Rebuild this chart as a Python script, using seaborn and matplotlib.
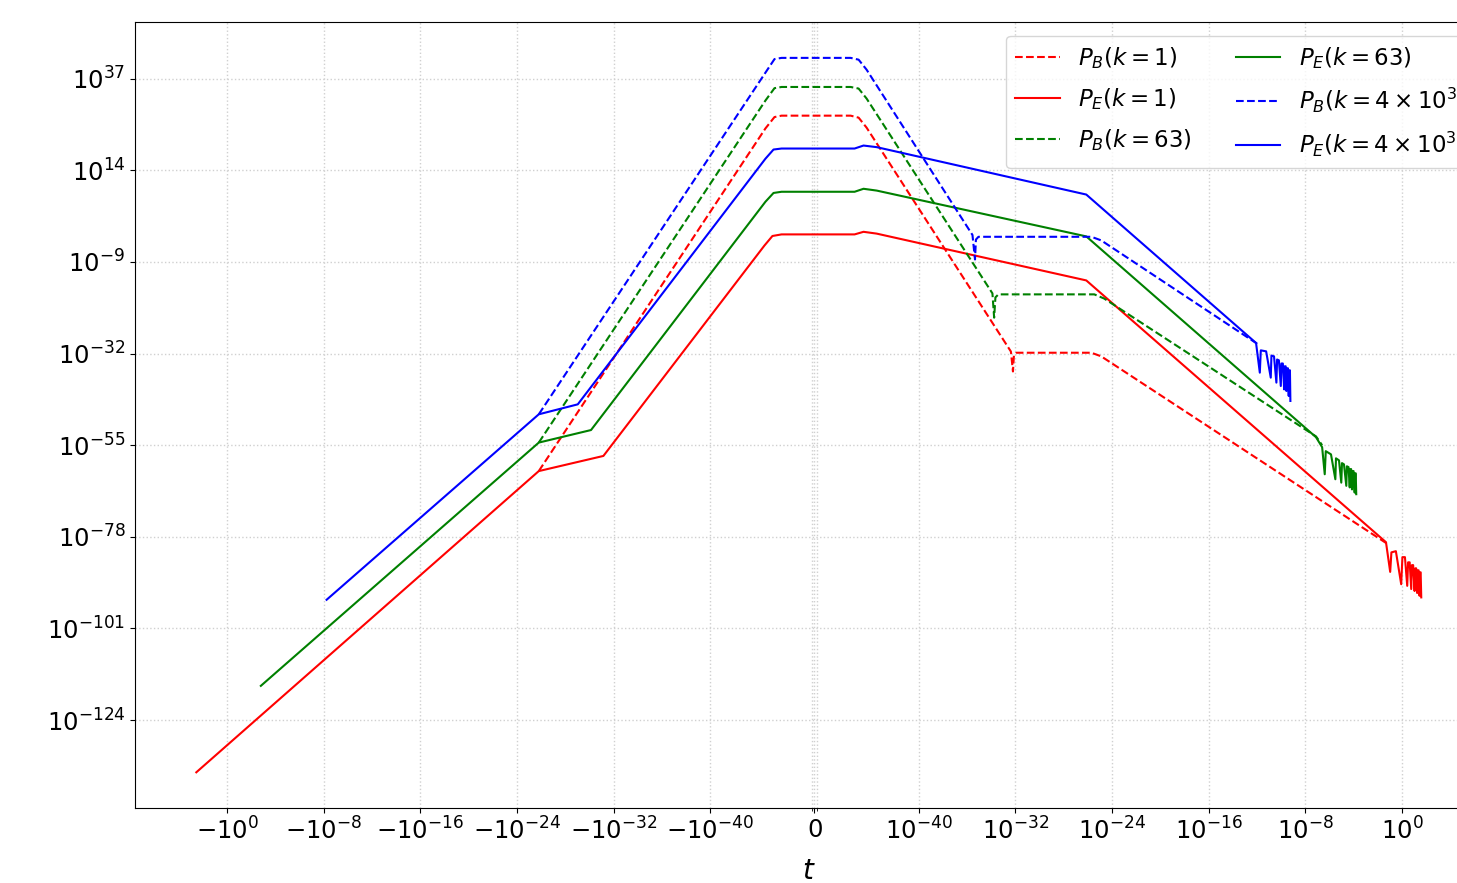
import numpy as np
import pandas as pd
import seaborn as sns
import matplotlib
matplotlib.use('Agg')
import matplotlib.pyplot as plt
from matplotlib.ticker import FixedLocator, NullLocator, NullFormatter

# values: t (signed) and log10 of the power spectrum

# P_B(k=1), red dashed
pb1_t = [-1.6e-26, -2.8e-45, -5.0e-46, -1.3e-46, 2.4e-46, 1.1e-45, 5.0e-45,
         4.4e-33, 6.5e-33, 7.8e-33, 1.26e-32, 2.0e-26, 1.3e-25, 6.9e-2]
pb1_logP = [-61.5, 24.5, 27.35, 27.7, 27.7, 27.2, 24.7,
            -31.5, -36.5, -32.5, -31.8, -31.8, -32.7, -79.85]

# P_E(k=1), red solid
pe1_t = [-3.5e2, -1.6e-26, -7.2e-32, -3.4e-45, -7.4e-46, -1.3e-46, 5.1e-46, 2.8e-45,
         3.4e-44, 7.6e-27, 4.8e-2,
         1.07e-1, 1.35e-1, 3.16e-1, 8.71e-1, 1.10, 1.78, 2.75, 3.24, 4.39, 5.89,
         6.76, 8.5, 11.2, 12.9, 15.1, 18.2, 20.4, 24.0, 28.8, 31.6, 35.5, 39.8]
pe1_logP = [-137.1, -61.5, -57.7, -4.9, -2.5, -2.1, -2.1, -1.45,
            -1.9, -13.65, -79.35,
            -86.8, -81.9, -81.6, -89.9, -83.1, -83.1, -90.3, -84.4, -84.4, -91.1,
            -85.1, -85.1, -91.6, -85.9, -85.9, -92.1, -86.4, -86.4, -92.8, -86.9, -86.9, -93.2]

# P_B(k=63), green dashed
pb63_t = [-1.6e-26, -2.8e-45, -5.0e-46, -1.3e-46, 2.4e-46, 1.1e-45, 5.0e-45,
          1.3e-34, 1.8e-34, 2.3e-34, 4.1e-34, 3.5e-26, 2.3e-25, 7.8e-8, 2.5e-7]
pb63_logP = [-54.35, 31.5, 34.6, 34.9, 34.9, 34.5, 32.0,
             -16.9, -23.0, -17.9, -17.15, -17.15, -18.2, -52.8, -55.0]

# P_E(k=63), green solid
pe63_t = [-1.6e-3, -1.6e-26, -7.6e-31, -2.8e-45, -6.0e-46, -1.3e-46, 5.1e-46, 2.8e-45,
          3.4e-44, 7.6e-27, 7.8e-8,
          2.5e-7, 4.1e-7, 5.0e-7, 1.35e-6, 3.1e-6, 3.5e-6, 6.2e-6, 9.6e-6, 1.1e-5,
          1.6e-5, 2.5e-5, 2.8e-5, 3.8e-5, 4.8e-5, 5.4e-5, 6.3e-5, 7.4e-5, 8.3e-5,
          1.0e-4, 1.23e-4, 1.35e-4, 1.5e-4, 1.66e-4]
pe63_logP = [-115.4, -54.35, -51.2, 6.1, 8.3, 8.6, 8.6, 9.35,
             8.9, -2.6, -53.0,
             -55.5, -62.3, -56.5, -57.3, -63.55, -58.3, -58.8, -64.4, -59.5,
             -59.8, -65.2, -60.3, -60.5, -65.6, -61.0, -61.0, -66.1, -61.5,
             -61.5, -66.9, -62.05, -62.05, -67.3]

# P_B(k=4e3), blue dashed
pb4k_t = [-1.6e-26, -2.8e-45, -5.0e-46, -1.3e-46, 2.4e-46, 1.1e-45, 5.0e-45,
          2.9e-36, 4.7e-36, 5.6e-36, 9.1e-36, 2.0e-26, 1.3e-25, 1.26e-12]
pb4k_logP = [-47.25, 38.5, 41.9, 42.2, 42.2, 41.75, 39.25,
             -2.25, -8.4, -3.4, -2.7, -2.7, -3.6, -29.7]

# P_E(k=4e3), blue solid
pe4k_t = [-5.8e-9, -1.6e-26, -9.5e-30, -2.8e-45, -6.0e-46, -1.3e-46, 5.1e-46, 2.8e-45,
          3.4e-44, 7.6e-27, 8.5e-13,
          1.74e-12, 2.1e-12, 5.8e-12, 1.4e-11, 1.6e-11, 2.6e-11, 4.1e-11, 4.7e-11,
          6.6e-11, 9.5e-11, 1.07e-10, 1.4e-10, 1.8e-10, 2.0e-10, 2.4e-10, 2.75e-10,
          3.1e-10, 3.7e-10, 4.3e-10, 4.8e-10, 5.4e-10, 5.9e-10]
pe4k_logP = [-93.8, -47.25, -44.75, 16.9, 19.2, 19.45, 19.45, 20.2,
             19.8, 7.9, -29.35,
             -36.8, -31.2, -31.45, -38.05, -32.5, -32.7, -39.3, -33.5,
             -33.7, -40.15, -34.5, -34.5, -41.0, -35.2, -35.2, -41.4,
             -35.7, -35.7, -42.65, -36.2, -36.2, -43.9]

xticks = [-1.0, -1e-8, -1e-16, -1e-24, -1e-32, -1e-40, 0.0,
          1e-40, 1e-32, 1e-24, 1e-16, 1e-8, 1.0]
yticks = [1e37, 1e14, 1e-9, 1e-32, 1e-55, 1e-78, 1e-101, 1e-124]

LINTHRESH = 10 ** -47.5

curvas = [
    (pb1_t, pb1_logP, 'red', '--', r'$P_B(k=1)$'),
    (pe1_t, pe1_logP, 'red', '-', r'$P_E(k=1)$'),
    (pb63_t, pb63_logP, 'green', '--', r'$P_B(k=63)$'),
    (pe63_t, pe63_logP, 'green', '-', r'$P_E(k=63)$'),
    (pb4k_t, pb4k_logP, 'blue', '--', r'$P_B(k=4\times10^3)$'),
    (pe4k_t, pe4k_logP, 'blue', '-', r'$P_E(k=4\times10^3)$'),
]

fig = plt.figure(figsize=(14.57, 8.83), dpi=100)
ax = fig.add_axes([0.0927, 0.0849, 0.9248, 0.890])

for t, logp, cor, estilo, rotulo in curvas:
    df = pd.DataFrame({'t': t, 'P': 10.0 ** np.array(logp)})
    sns.lineplot(data=df, x='t', y='P', color=cor, linestyle=estilo, linewidth=1.5,
                 label=rotulo, sort=False, estimator=None, ax=ax)

ax.set_xscale('symlog', linthresh=LINTHRESH)
ax.set_yscale('log')

ax.set_xticks(xticks)
ax.xaxis.set_minor_locator(FixedLocator([-0.2 * LINTHRESH, 0.2 * LINTHRESH]))
ax.xaxis.set_minor_formatter(NullFormatter())
ax.set_yticks(yticks)
ax.yaxis.set_minor_locator(NullLocator())
ax.tick_params(labelsize=17.5)

ax.grid(True, which='both', axis='x', ls=':', color='#d0d0d0', lw=1)
ax.grid(True, which='major', axis='y', ls=':', color='#d0d0d0', lw=1)

ax.set_xlabel('$t$', fontsize=20, labelpad=9)
ax.set_ylabel('')
ax.legend(loc='upper left', bbox_to_anchor=(0.6465, 0.983), ncol=2, fontsize=16.5,
          labelspacing=0.66, columnspacing=1.9, handlelength=1.95, borderaxespad=0)

fig.savefig('out.png', dpi=100)
